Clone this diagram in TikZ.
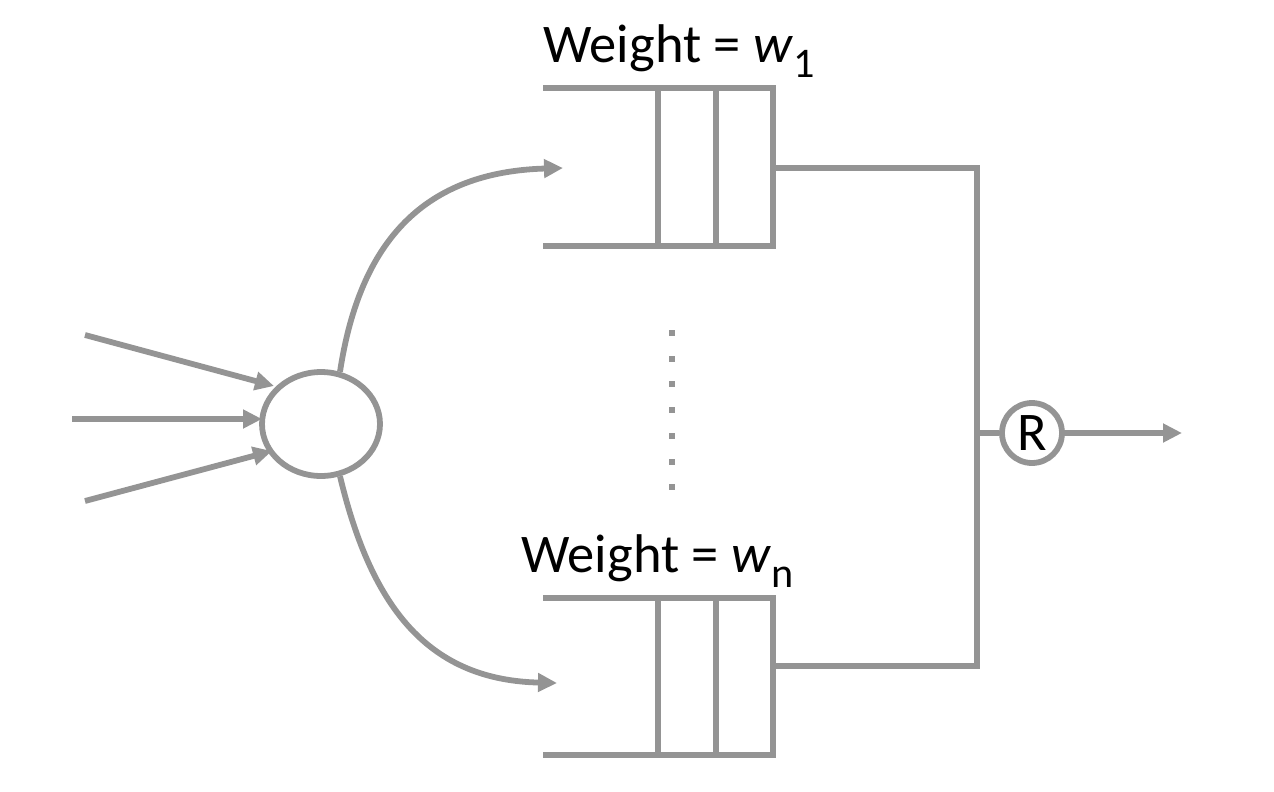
\documentclass[tikz,border=0pt]{standalone}
\usepackage{fontspec}
\setmainfont{Carlito}
\usetikzlibrary{calc, positioning}
\usetikzlibrary{arrows.meta}
\usetikzlibrary{shapes.geometric}

\newcommand{\wsub}[1]{\textit{w}\raisebox{-0.28em}{\fontsize{24}{26}\selectfont #1}}

\tikzset{
  wire/.style={draw=black!42, line width=3.3pt},
  arr/.style={wire, -{Triangle[length=0.38cm, width=0.36cm]}},
  lbl/.style={font=\fontsize{31}{34}\selectfont, inner sep=0pt, anchor=base west}
}

\begin{document}
\begin{tikzpicture}[x=0.02cm, y=-0.02cm]
\useasboundingbox (0, 0) rectangle (1274, 791);
\def\qx{543}
\def\qr{773}

\node[wire, ellipse, minimum width=2.36cm, minimum height=2.08cm] (split) at (321, 424) {};
\node[wire, circle, minimum size=1.2cm, inner sep=0pt, font=\fontsize{31}{33}\selectfont] (R) at (1032, 433) {R};

% queues
\foreach \name/\top/\bot/\mid in {one/88/246/168, en/598/755/666} {
  \draw[wire] (\qx, \top) -- (\qr, \top) -- (\qr, \bot) -- (\qx, \bot);
  \draw[wire] (658, \top) -- (658, \bot);
  \draw[wire] (716, \top) -- (716, \bot);
  \coordinate (\name-out) at (\qr, \mid);
}
\node[lbl] (w1) at (543, 62) {Weight = \wsub{1}};
\node[lbl] (wn) at (521, 572) {Weight = \wsub{n}};

% inputs
\coordinate (in1) at (85, 335);
\coordinate (in2) at (72, 419);
\coordinate (in3) at (85, 501);
\draw[arr] (in1) -- (274, 386);
\draw[arr] (in2) -- (262, 419);
\draw[arr] (in3) -- (272, 451);

% branches
\coordinate (one-in) at (563, 168);
\coordinate (en-in) at (557, 683);
\draw[arr] (split.70) .. controls (360, 240) and (425, 172) .. (one-in);
\draw[arr] (split.-70) .. controls (372, 610) and (430, 680) .. (en-in);

\foreach \k in {0,...,6} {
  \fill[black!42] ($(672, 333) + (0, 25.7*\k)$) +(-3, -3) rectangle +(3, 3);
}

% merge
\coordinate (bus-top) at (977, 168);
\coordinate (bus-bot) at (977, 666);
\coordinate (out) at (1182, 433);
\draw[wire] (one-out) -- (bus-top) -- (bus-bot) -- (en-out);
\draw[wire] (977, 433) -- (R.west);
\draw[arr] (R.east) -- (out);
\end{tikzpicture}
\end{document}
